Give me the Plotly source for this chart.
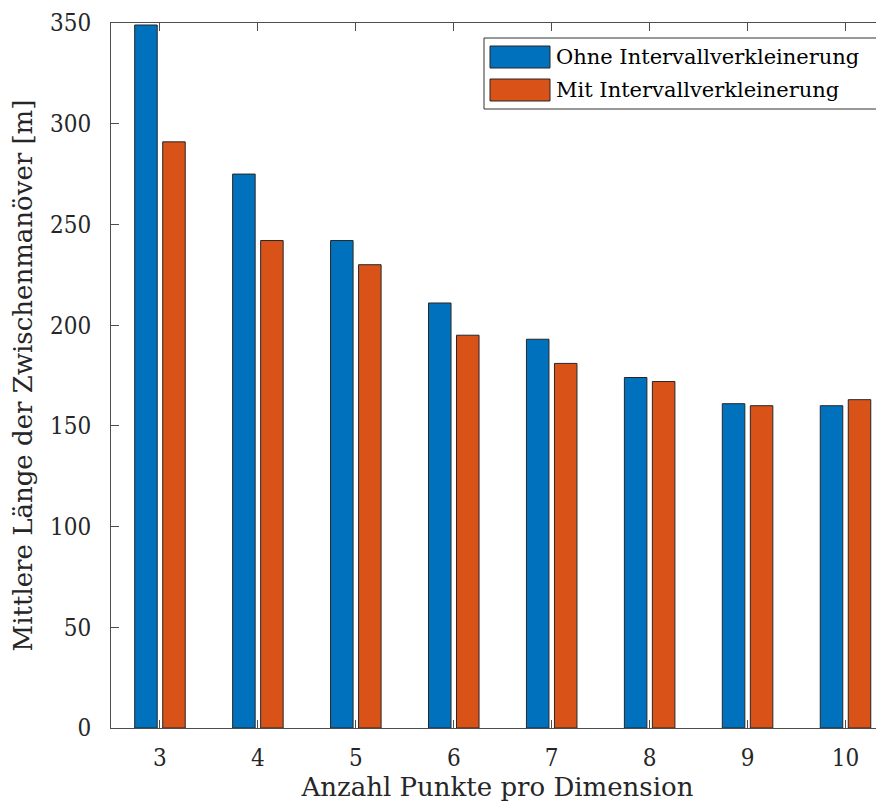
import plotly.graph_objects as go

categories = [3, 4, 5, 6, 7, 8, 9, 10]
ohne = [349, 275, 242, 211, 193, 174, 161, 160]
mit = [291, 242, 230, 195, 181, 172, 160, 163]
series_names = ["Ohne Intervallverkleinerung", "Mit Intervallverkleinerung"]
colors = ["#0072BD", "#D95319"]
y_ticks = [0, 50, 100, 150, 200, 250, 300, 350]

FONT = "DejaVu Serif"
TICKFONT = "DejaVu Serif Condensed, DejaVu Serif"
TXT = "#262626"
AX = "#4d4d4d"

# page body has an 8px margin; figure sized so the page is 884x807
W, H = 876, 799
l, t, b = 103, 15, 79

fig = go.Figure()
for name, vals, col in zip(series_names, [ohne, mit], colors):
    fig.add_trace(go.Bar(
        x=categories, y=vals, name=name,
        marker=dict(color=col, line=dict(color="#262626", width=1)),
        showlegend=False,
    ))

fig.update_layout(
    width=W, height=H,
    margin=dict(l=l, r=0, t=t, b=b),
    paper_bgcolor="white", plot_bgcolor="white",
    barmode="group", bargap=0.428, bargroupgap=0.196,
    font=dict(family=FONT, color=TXT, size=22),
)
fig.update_xaxes(
    range=[2.5, 10.393], tickvals=categories, ticktext=[str(c) for c in categories],
    ticks="inside", ticklen=8, tickcolor=AX, showline=True, linecolor=AX, linewidth=1,
    mirror="ticks", showgrid=False, zeroline=False,
    tickfont=dict(family=TICKFONT, size=24, color=TXT), ticklabelstandoff=8,
    title=dict(text="Anzahl Punkte pro Dimension", font=dict(family=FONT, size=26, color=TXT), standoff=4),
)
fig.update_yaxes(
    range=[0, 350], tickvals=y_ticks, ticktext=[str(v) for v in y_ticks],
    ticks="inside", ticklen=8, tickcolor=AX, showline=True, linecolor=AX, linewidth=1,
    showgrid=False, zeroline=False,
    tickfont=dict(family=TICKFONT, size=24, color=TXT), ticklabelstandoff=14,
    title=dict(text="Mittlere Länge der Zwischenmanöver [m]", font=dict(family=FONT, size=26, color=TXT), standoff=14),
)

pw, ph = W - l, H - t - b
def px(x):
    return (x - 8 - l) / pw
def py(y):
    return 1 - (y - 8 - t) / ph

fig.add_shape(type="rect", xref="paper", yref="paper",
              x0=px(484), x1=px(877), y0=py(109), y1=py(38),
              line=dict(color="#333333", width=1), fillcolor="white", layer="above")
for i, (name, col) in enumerate(zip(series_names, colors)):
    yc = 57 + i * 33
    fig.add_shape(type="rect", xref="paper", yref="paper",
                  x0=px(490), x1=px(550), y0=py(yc + 11), y1=py(yc - 11),
                  line=dict(color="#262626", width=1), fillcolor=col, layer="above")
    fig.add_annotation(xref="paper", yref="paper", x=px(554), y=py(yc),
                       text=name, showarrow=False, xanchor="left", yanchor="middle",
                       font=dict(family=FONT, size=21, color="black"))

fig.write_html("out.html")
